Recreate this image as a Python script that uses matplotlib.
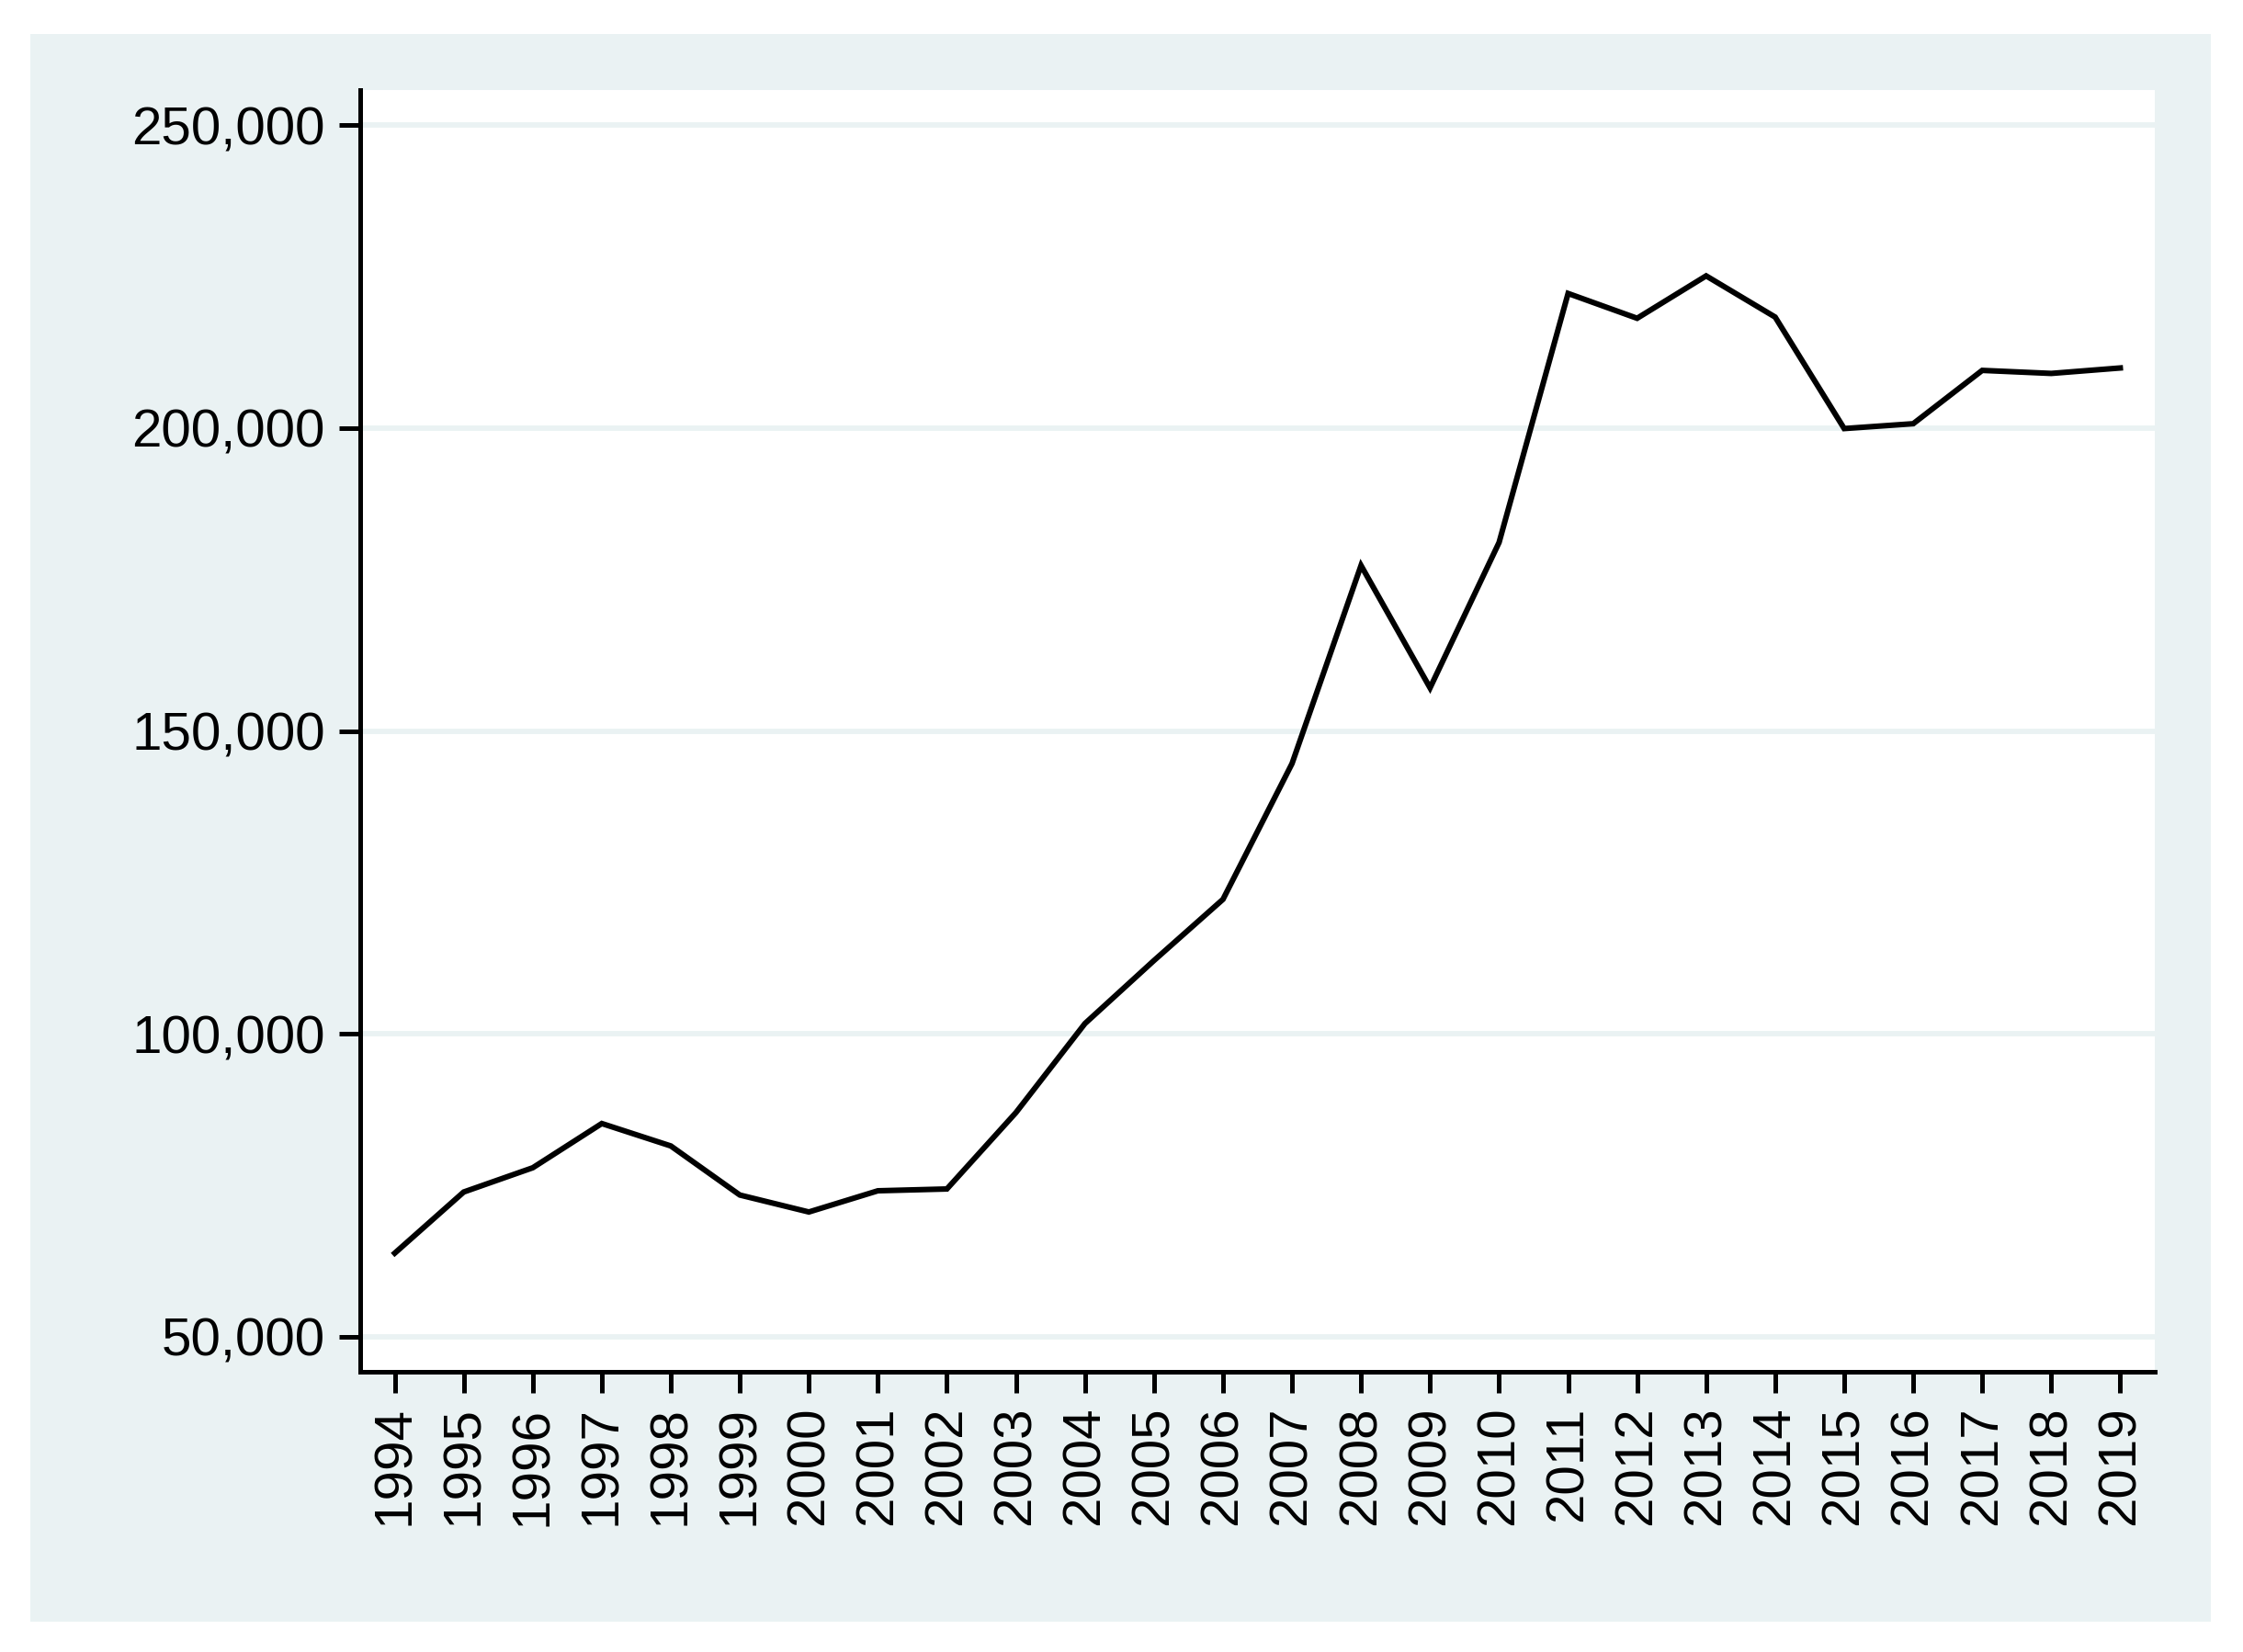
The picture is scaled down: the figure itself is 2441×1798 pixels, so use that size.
import matplotlib
matplotlib.use("Agg")
import matplotlib.pyplot as plt
from matplotlib.patches import Rectangle
from matplotlib.ticker import FuncFormatter

years = list(range(1994, 2020))
values = [63800, 73900, 77900, 85200, 81500, 73400, 70600, 74100, 74400, 87000,
          101700, 112100, 122200, 144600, 177300, 157100, 181100, 222200, 218100, 225100,
          218300, 199900, 200700, 209500, 209000, 209900]
y_ticks = [50000, 100000, 150000, 200000, 250000]

panel_color = "#EAF2F3"
W, H = 2441, 1798
dpi = 300

plt.rcParams['font.family'] = ['Liberation Sans', 'DejaVu Sans']

fig = plt.figure(figsize=(W / dpi, H / dpi), dpi=dpi)
fig.patch.set_facecolor("white")

# light outer panel, like Stata's graph region
fig.add_artist(Rectangle((33 / W, 1 - 1765 / H), (2406 - 33) / W, (1765 - 37) / H,
                         transform=fig.transFigure, facecolor=panel_color,
                         edgecolor="none", zorder=-5))

ax = fig.add_axes([392 / W, 1 - 1493 / H, (2345 - 392) / W, (1493 - 98) / H])
ax.set_zorder(1)
ax.set_facecolor("white")

ax.plot(years, values, color="black", linewidth=1.45, solid_joinstyle="miter", zorder=3)

ax.set_xlim(1993.5, 2019.5)
ax.set_ylim(44230, 255770)
ax.set_xticks(years)
ax.set_xticklabels([str(y) for y in years], rotation=90)
ax.set_yticks(y_ticks)
ax.yaxis.set_major_formatter(FuncFormatter(lambda v, p: f"{int(v):,}"))

for y in y_ticks:
    ax.axhline(y, color=panel_color, linewidth=1.4, zorder=1)

for s in ["top", "right"]:
    ax.spines[s].set_visible(False)
for s in ["left", "bottom"]:
    ax.spines[s].set_linewidth(1.2)
    ax.spines[s].set_color("black")

ax.tick_params(axis="both", length=5.6, width=1.2, colors="black", labelsize=14)
ax.tick_params(axis="y", pad=3.6)
ax.tick_params(axis="x", pad=3.4)

fig.savefig("out.png", dpi=dpi)
